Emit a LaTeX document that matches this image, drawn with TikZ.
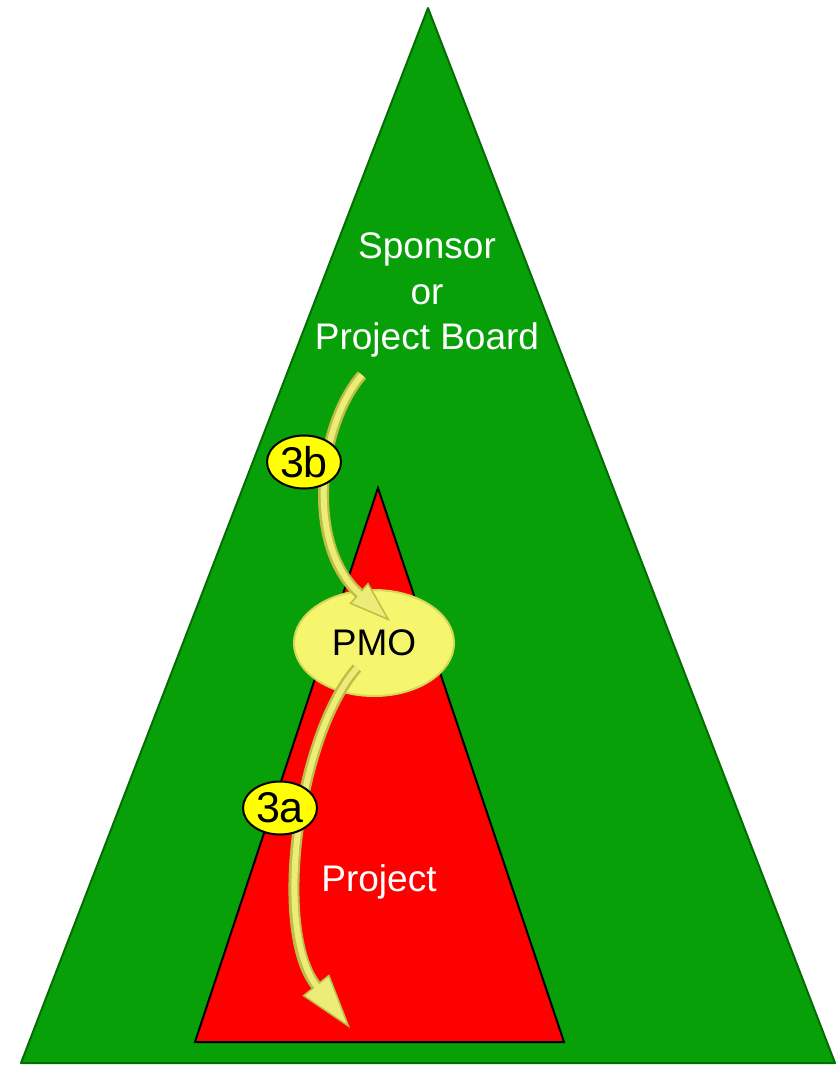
\documentclass[tikz,border=0pt]{standalone}
\usepackage{fontspec}
\setmainfont{Liberation Sans}
\usetikzlibrary{arrows.meta,shapes.geometric}
\definecolor{pgreen}{RGB}{8,160,8}
\definecolor{pgreendark}{RGB}{4,110,4}
\definecolor{pred}{RGB}{255,0,0}
\definecolor{arrlight}{RGB}{236,236,120}
\definecolor{arrdark}{RGB}{190,190,70}
\definecolor{pmoyellow}{RGB}{246,246,110}
\definecolor{pmoedge}{RGB}{215,215,90}
\definecolor{lblyellow}{RGB}{255,255,0}
\tikzset{
  bigtext/.style={font=\fontsize{37}{45.5}\selectfont, align=center, inner sep=0pt},
  numlabel/.style={ellipse, draw=black, line width=2pt, fill=lblyellow,
    minimum width=74pt, minimum height=53pt, inner sep=0pt,
    font=\fontsize{43}{45}\selectfont},
  flowouter/.style={line width=11pt, draw=arrdark},
  flowinner/.style={line width=6pt, draw=arrlight},
}
\begin{document}
\begin{tikzpicture}[x=1pt,y=-1pt]
\useasboundingbox (0,0) rectangle (839,1065);
% green triangle
\draw[fill=pgreen, draw=pgreendark, line width=2pt, line join=round]
  (428,8) -- (835,1063) -- (21,1063) -- cycle;
% red triangle
\draw[fill=pred, draw=black, line width=2pt, line join=miter]
  (378,488) -- (564,1042) -- (195,1042) -- cycle;
% texts
\node[bigtext, text=white] (sponsor) at (427,295) {Sponsor\\or\\Project Board};
\node[bigtext, text=white] (project) at (379,882) {Project};
% PMO ellipse
\node[ellipse, fill=pmoyellow, draw=pmoedge, line width=2pt,
      minimum width=160pt, minimum height=106pt, inner sep=0pt,
      font=\fontsize{37}{40}\selectfont] (pmo) at (374,643) {PMO};
% arrow 3b
\coordinate (b0) at (362,375);
\coordinate (b1) at (390,621);
\draw[flowouter, -{Triangle[length=42pt,width=28pt,fill=arrlight,line width=1.5pt]}]
  (b0) .. controls (318,425) and (305,545) .. (b1);
\draw[flowinner, shorten >=40pt]
  (b0) .. controls (318,425) and (305,545) .. (b1);
% arrow 3a
\coordinate (a0) at (357,668);
\coordinate (a1) at (350,1028);
\draw[flowouter, -{Triangle[length=55pt,width=34pt,fill=arrlight,line width=1.5pt]}]
  (a0) .. controls (298,735) and (272,930) .. (a1);
\draw[flowinner, shorten >=52pt]
  (a0) .. controls (298,735) and (272,930) .. (a1);
% number labels
\node[numlabel] (l3b) at (304,462) {3b};
\node[numlabel] (l3a) at (280,808) {3a};
\end{tikzpicture}
\end{document}
